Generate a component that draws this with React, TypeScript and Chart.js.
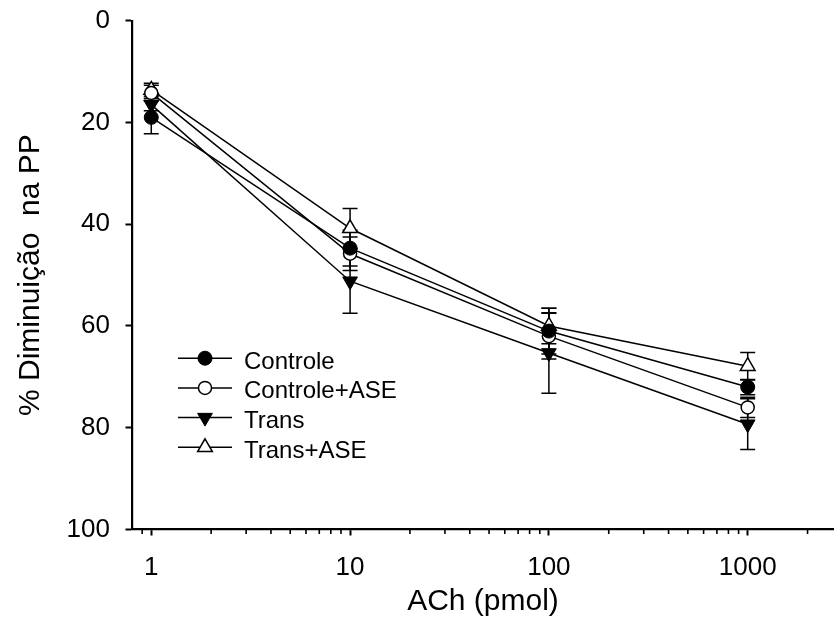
import { useEffect, useRef } from "react";
import { Chart, registerables } from "chart.js";

Chart.register(...registerables);

// ACh doses (pmol) and mean % decrease in perfusion pressure, with SE
const doses = [1, 10, 100, 1000];
const controle = [19, 44.7, 61, 72];
const controleSe = [3.2, 3.5, 4.5, 1.5];
const controleAse = [14.2, 45.8, 62, 76];
const controleAseSe = [1.5, 3.3, 4.5, 2];
const trans = [16.5, 51.2, 65.3, 79.3];
const transSe = [1.2, 6.3, 7.9, 5];
const transAse = [13.6, 40.8, 60, 67.9];
const transAseSe = [1.3, 3.9, 3.5, 2.7];

const seriesLabels = ["Controle", "Controle+ASE", "Trans", "Trans+ASE"];

const yTicks = [0, 20, 40, 60, 80, 100];
const xMajorTicks = [1, 10, 100, 1000];
const xMinorTicks = [
  0.9, 2, 3, 4, 5, 6, 7, 8, 9, 20, 30, 40, 50, 60, 70, 80, 90, 200, 300, 400, 500, 600, 700, 800, 900, 2000,
];

const FONT = "'Liberation Sans', Arial, Helvetica, sans-serif";

type MarkerSpec = { style: "circle" | "triangle"; rotation: number; fill: string; radius: number; border: number };

const markers: MarkerSpec[] = [
  { style: "circle", rotation: 0, fill: "#000", radius: 7, border: 1 },
  { style: "circle", rotation: 0, fill: "#fff", radius: 6.5, border: 1.5 },
  { style: "triangle", rotation: 180, fill: "#000", radius: 8.5, border: 1 },
  { style: "triangle", rotation: 0, fill: "#fff", radius: 8.5, border: 1.5 },
];

function drawMarker(ctx: CanvasRenderingContext2D, m: MarkerSpec, x: number, y: number) {
  ctx.beginPath();
  if (m.style === "circle") {
    ctx.arc(x, y, m.radius, 0, Math.PI * 2);
  } else {
    let rad = (m.rotation * Math.PI) / 180;
    ctx.moveTo(x + Math.sin(rad) * m.radius, y - Math.cos(rad) * m.radius);
    rad += (2 * Math.PI) / 3;
    ctx.lineTo(x + Math.sin(rad) * m.radius, y - Math.cos(rad) * m.radius);
    rad += (2 * Math.PI) / 3;
    ctx.lineTo(x + Math.sin(rad) * m.radius, y - Math.cos(rad) * m.radius);
    ctx.closePath();
  }
  ctx.fillStyle = m.fill;
  ctx.fill();
  ctx.lineWidth = m.border;
  ctx.strokeStyle = "#000";
  ctx.stroke();
}

// vertical SE bars with caps, drawn beneath the symbols
const errorBars = {
  id: "errorBars",
  beforeDatasetsDraw(chart: any) {
    const { ctx } = chart;
    const yScale = chart.scales.y;
    ctx.save();
    ctx.strokeStyle = "#000";
    ctx.lineWidth = 1.5;
    chart.data.datasets.forEach((ds: any, i: number) => {
      const meta = chart.getDatasetMeta(i);
      meta.data.forEach((pt: any, j: number) => {
        const v = ds.data[j].y;
        const e = ds.errors[j];
        const yTop = yScale.getPixelForValue(v - e);
        const yBot = yScale.getPixelForValue(v + e);
        const cap = 7.5;
        ctx.beginPath();
        ctx.moveTo(pt.x, yTop);
        ctx.lineTo(pt.x, yBot);
        ctx.moveTo(pt.x - cap, yTop);
        ctx.lineTo(pt.x + cap, yTop);
        ctx.moveTo(pt.x - cap, yBot);
        ctx.lineTo(pt.x + cap, yBot);
        ctx.stroke();
      });
    });
    ctx.restore();
  },
};

// short minor tick marks on the logarithmic axis
const minorTicks = {
  id: "minorTicks",
  afterDraw(chart: any) {
    const { ctx, chartArea } = chart;
    const xScale = chart.scales.x;
    ctx.save();
    ctx.strokeStyle = "#000";
    ctx.lineWidth = 1.6;
    xMinorTicks.forEach((v) => {
      const px = xScale.getPixelForValue(v);
      if (px < chartArea.left - 0.5 || px > chartArea.right) return;
      ctx.beginPath();
      ctx.moveTo(px, chartArea.bottom);
      ctx.lineTo(px, chartArea.bottom + 4.5);
      ctx.stroke();
    });
    ctx.restore();
  },
};

// legend box inside the plot area
const seriesLegend = {
  id: "seriesLegend",
  afterDatasetsDraw(chart: any) {
    const { ctx, chartArea } = chart;
    ctx.save();
    const x0 = chartArea.left + 46;
    const x1 = chartArea.left + 100;
    const xm = (x0 + x1) / 2;
    const xt = chartArea.left + 112;
    seriesLabels.forEach((label, i) => {
      const y = chartArea.top + 337.5 + i * 29.7;
      ctx.strokeStyle = "#000";
      ctx.lineWidth = 1.5;
      ctx.beginPath();
      ctx.moveTo(x0, y);
      ctx.lineTo(x1, y);
      ctx.stroke();
      drawMarker(ctx, markers[i], xm, y);
      ctx.fillStyle = "#000";
      ctx.font = `24px ${FONT}`;
      ctx.textAlign = "left";
      ctx.textBaseline = "alphabetic";
      ctx.fillText(label, xt, y + 10.5);
    });
    ctx.restore();
  },
};

const seriesValues = [controle, controleAse, trans, transAse];
const seriesErrors = [controleSe, controleAseSe, transSe, transAseSe];

export default function App() {
  const ref = useRef<HTMLCanvasElement>(null);

  useEffect(() => {
    const canvas = ref.current;
    if (!canvas) return;

    const datasets = seriesLabels.map((label, i) => ({
      label,
      data: doses.map((d, j) => ({ x: d, y: seriesValues[i][j] })),
      errors: seriesErrors[i],
      borderColor: "#000",
      borderWidth: 1.5,
      tension: 0,
      fill: false,
      clip: false,
      pointStyle: markers[i].style,
      pointRotation: markers[i].rotation,
      pointRadius: markers[i].radius,
      pointBackgroundColor: markers[i].fill,
      pointBorderColor: "#000",
      pointBorderWidth: markers[i].border,
    }));

    const chart = new Chart(canvas, {
      type: "line",
      data: { datasets } as any,
      options: {
        animation: false,
        responsive: false,
        devicePixelRatio: 1,
        layout: { autoPadding: false, padding: { top: 20.7, right: 0, bottom: 0, left: 0 } },
        plugins: {
          legend: { display: false },
          tooltip: { enabled: false },
        },
        scales: {
          x: {
            type: "logarithmic",
            position: "bottom",
            min: 0.8,
            max: 2717,
            afterBuildTicks: (s: any) => {
              s.ticks = xMajorTicks.map((v) => ({ value: v, major: true }));
            },
            afterFit: (s: any) => {
              s.height = 106.5;
              s.paddingLeft = 0;
              s.paddingRight = 0;
              s.paddingTop = 0;
              s.paddingBottom = 0;
            },
            ticks: {
              autoSkip: false,
              maxRotation: 0,
              minRotation: 0,
              padding: 17,
              color: "#000",
              font: { size: 26, family: FONT },
              callback: (v: any) => String(v),
            },
            grid: {
              display: true,
              drawOnChartArea: false,
              drawTicks: true,
              tickLength: 6,
              tickWidth: 2,
              tickColor: "#000",
            },
            border: { display: true, color: "#000", width: 2.2 },
            title: {
              display: true,
              text: "ACh (pmol)",
              color: "#000",
              font: { size: 30, family: FONT },
              padding: { top: 0, bottom: 16 },
            },
          },
          y: {
            type: "linear",
            position: "left",
            reverse: true,
            min: 0,
            max: 100,
            afterBuildTicks: (s: any) => {
              s.ticks = yTicks.map((v) => ({ value: v }));
            },
            afterFit: (s: any) => {
              s.width = 132;
              s.paddingLeft = 0;
              s.paddingRight = 0;
              s.paddingTop = 0;
              s.paddingBottom = 0;
            },
            ticks: {
              padding: 15.5,
              color: "#000",
              font: { size: 26, family: FONT },
            },
            grid: {
              display: true,
              drawOnChartArea: false,
              drawTicks: true,
              tickLength: 6.5,
              tickWidth: 2,
              tickColor: "#000",
            },
            border: { display: true, color: "#000", width: 2.2 },
            title: {
              display: true,
              text: "% Diminuição  na PP",
              color: "#000",
              font: { size: 30, family: FONT },
              padding: { top: 13, bottom: 0 },
            },
          },
        },
      } as any,
      plugins: [errorBars, minorTicks, seriesLegend],
    });

    return () => chart.destroy();
  }, []);

  return (
    <div
      style={{
        position: "fixed",
        left: 0,
        top: 0,
        width: 834,
        height: 636,
        overflow: "hidden",
        background: "#fff",
      }}
    >
      <canvas ref={ref} width={834} height={636} style={{ display: "block" }} />
    </div>
  );
}
